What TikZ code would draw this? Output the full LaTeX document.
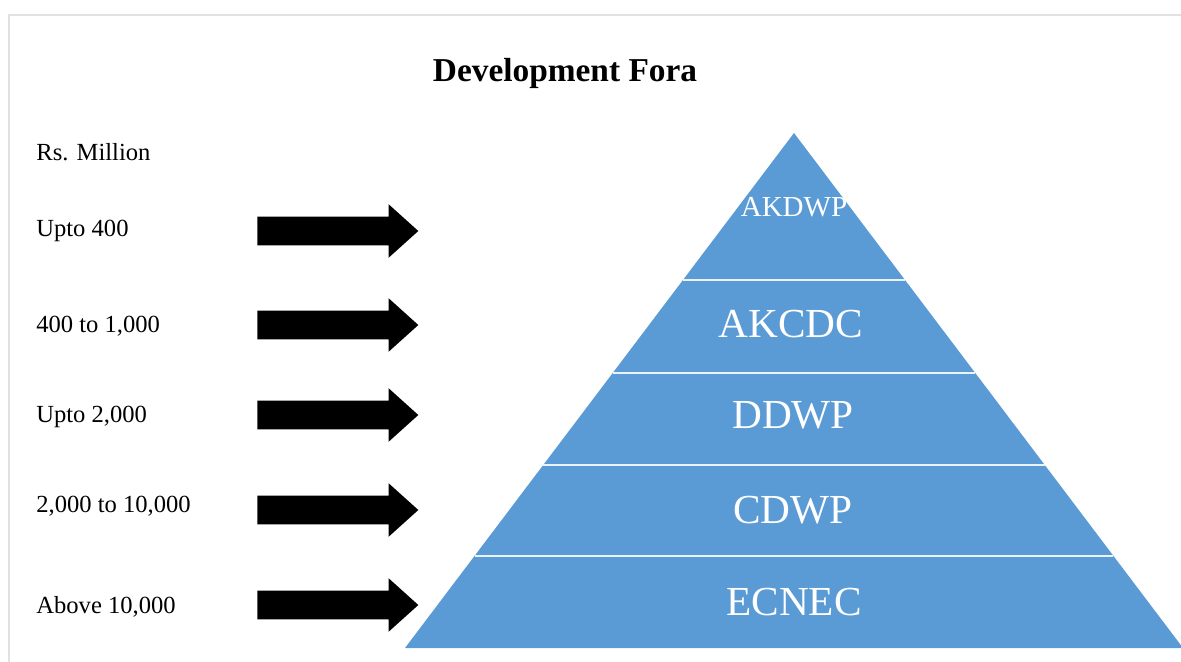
\documentclass[tikz,border=0pt]{standalone}
\usepackage{fontspec}
\setmainfont{Liberation Serif}
\usetikzlibrary{calc,shapes.arrows,positioning}
\definecolor{fora}{RGB}{91,155,213}
\definecolor{frame}{RGB}{225,225,225}
\tikzset{%
        limit/.style = {anchor = base west, inner sep = 0pt,
                font = \fontsize{14}{16}\selectfont},
        fatarrow/.style = {single arrow, fill = black, inner xsep = 0pt,
                inner ysep = 0.28cm, anchor = tail, minimum height = 3.22cm,
                single arrow head extend = 0.25cm, single arrow tip angle = 84},
        forum/.style = {anchor = base, inner sep = 0pt, text = white,
                font = \fontsize{23.5}{26}\selectfont},
        divider/.style = {draw = white!88!fora, line width = 1.1pt}
}

\begin{document}
\begin{tikzpicture}[x=0.02cm, y=-0.02cm]
        \useasboundingbox (0,0) rectangle (1181,662);
        \draw[frame, line width = 1.2pt] (9,662) -- (9,15) -- (1181,15);
        \node[anchor = base, inner sep = 0pt,
              font = \fontsize{19}{22}\selectfont\bfseries] (title) at (565,82) {Development Fora};

        \node[limit] (rs) at (36,161) {Rs. Million};
        \node[limit] (l1) at (36,237) {Upto 400};
        \node[limit] (l2) at (36,333) {400 to 1,000};
        \node[limit] (l3) at (36,422) {Upto 2,000};
        \node[limit] (l4) at (36,513) {2,000 to 10,000};
        \node[limit] (l5) at (36,613) {Above 10,000};

        \node[fatarrow] (a1) at (257,231) {};
        \node[fatarrow] (a2) at (257,325) {};
        \node[fatarrow] (a3) at (257,415) {};
        \node[fatarrow] (a4) at (257,510) {};
        \node[fatarrow] (a5) at (257,605) {};

        \coordinate (top) at (794,133);
        \coordinate (bl) at (405,648);
        \coordinate (br) at (1183,648);
        \fill[fora] (top) -- (br) -- (bl) -- cycle;
        \foreach \t in {0.285,0.466,0.645,0.821}
                \draw[divider] ($(top)!\t!(bl)$) -- ($(top)!\t!(br)$);

        \node[forum, font = \fontsize{16.5}{18}\selectfont] (akdwp) at (794,217) {AKDWP};
        \node[forum] (akcdc) at (791,338) {AKCDC};
        \node[forum] (ddwp) at (793,429) {DDWP};
        \node[forum] (cdwp) at (793,523) {CDWP};
        \node[forum] (ecnec) at (794,615) {ECNEC};
\end{tikzpicture}
\end{document}
